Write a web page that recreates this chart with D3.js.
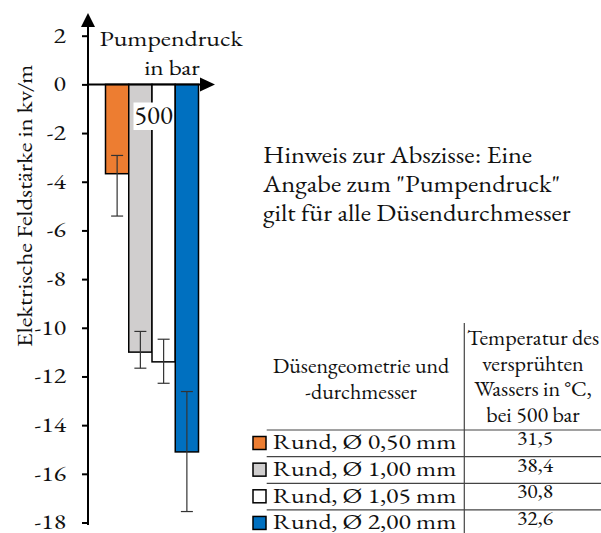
<!DOCTYPE html>
<html>
<head>
<meta charset="utf-8">
<script src="https://cdn.jsdelivr.net/npm/d3@7"></script>
<style>
  body { margin: 0; background: #fff; }
</style>
</head>
<body>
<div id="figure"></div>
<script>
// data
const categories = ["Rund, Ø 0,50 mm", "Rund, Ø 1,00 mm", "Rund, Ø 1,05 mm", "Rund, Ø 2,00 mm"];
const values = [-3.67, -11.0, -11.4, -15.1];
const errUpper = [-2.92, -10.15, -10.47, -12.62];
const errLower = [-5.41, -11.66, -12.28, -17.55];
const temperatures = ["31,5", "38,4", "30,8", "32,6"];
const colors = ["#ED7D31", "#D0CECE", "#FFFFFF", "#0070C0"];
const pressureLabel = ["500"];
const yTicks = [2, 0, -2, -4, -6, -8, -10, -12, -14, -16, -18];
const noteLines = ["Hinweis zur Abszisse: Eine", "Angabe zum \"Pumpendruck\"", "gilt für alle Düsendurchmesser"];
const headLeft = ["Düsengeometrie und", "-durchmesser"];
const headRight = ["Temperatur des", "versprühten", "Wassers in °C,", "bei 500 bar"];

const W = 601, H = 533;
const axisX = 88;
const FONT = "EB Garamond, Liberation Serif, serif";

// widen glyphs a bit: the original face runs wider than EB Garamond
function widen(sel, k) {
  sel.each(function() {
    const len = this.getComputedTextLength();
    d3.select(this)
      .attr("textLength", len * k)
      .attr("lengthAdjust", "spacingAndGlyphs");
  });
}

const svg = d3.select("#figure")
  .append("svg")
  .attr("width", W)
  .attr("height", H)
  .attr("font-family", FONT);

// scales
const y = d3.scaleLinear().domain([-18, 2]).range([522.5, 35.7]);
const x = d3.scaleBand().domain(categories).range([105.5, 198.5]).padding(0);

// bars
svg.selectAll(".bar")
  .data(categories)
  .join("rect")
  .attr("class", "bar")
  .attr("x", d => x(d))
  .attr("width", x.bandwidth())
  .attr("y", (d, i) => y(Math.max(0, values[i])))
  .attr("height", (d, i) => Math.abs(y(values[i]) - y(0)))
  .attr("fill", (d, i) => colors[i])
  .attr("stroke", "#000")
  .attr("stroke-width", 1.5);

// error bars
const eb = svg.selectAll(".err")
  .data(categories)
  .join("g")
  .attr("class", "err")
  .attr("stroke", "#333")
  .attr("stroke-width", 1.2);
eb.append("line")
  .attr("x1", d => x(d) + x.bandwidth() / 2)
  .attr("x2", d => x(d) + x.bandwidth() / 2)
  .attr("y1", (d, i) => y(errUpper[i]))
  .attr("y2", (d, i) => y(errLower[i]));
[errUpper, errLower].forEach(arr => {
  eb.append("line")
    .attr("x1", d => x(d) + x.bandwidth() / 2 - 6)
    .attr("x2", d => x(d) + x.bandwidth() / 2 + 6)
    .attr("y1", (d, i) => y(arr[i]))
    .attr("y2", (d, i) => y(arr[i]));
});

// y axis
const yAxis = d3.axisLeft(y)
  .tickValues(yTicks)
  .tickSize(6)
  .tickPadding(16)
  .tickFormat(d => String(d));
const gy = svg.append("g")
  .attr("transform", `translate(${axisX},0)`)
  .call(yAxis)
  .attr("font-family", FONT);
gy.select(".domain").remove();
gy.selectAll(".tick line").attr("stroke", "#000").attr("stroke-width", 2);
gy.selectAll(".tick text")
  .attr("font-family", FONT)
  .attr("font-size", 21.5)
  .attr("fill", "#111")
  .attr("dy", "0.3em")
  .call(widen, 1.2);

// axis lines with arrows
svg.append("line")
  .attr("x1", axisX).attr("x2", axisX)
  .attr("y1", 525).attr("y2", 26)
  .attr("stroke", "#000").attr("stroke-width", 2);
svg.append("path")
  .attr("d", `M${axisX - 7},27 L${axisX},13 L${axisX + 7},27 Z`)
  .attr("fill", "#000");
svg.append("line")
  .attr("x1", axisX).attr("x2", 201)
  .attr("y1", y(0)).attr("y2", y(0))
  .attr("stroke", "#000").attr("stroke-width", 2);
svg.append("path")
  .attr("d", `M200,${y(0) - 7} L215,${y(0)} L200,${y(0) + 7} Z`)
  .attr("fill", "#000");

// x category label "500" on white box
const cx = (x.range()[0] + x.range()[1]) / 2 + 1.5;
const lbl = svg.append("g");
lbl.append("rect")
  .attr("x", cx - 20).attr("y", 102.5)
  .attr("width", 39).attr("height", 27.5)
  .attr("fill", "#fff");
lbl.append("text")
  .attr("x", cx).attr("y", 123.5)
  .attr("text-anchor", "middle")
  .attr("font-size", 26)
  .attr("fill", "#111")
  .text(pressureLabel[0])
  .call(widen, 1.03);

// axis titles
svg.append("text")
  .attr("x", 171).attr("y", 46)
  .attr("text-anchor", "middle")
  .attr("font-size", 22)
  .attr("fill", "#111")
  .text("Pumpendruck")
  .call(widen, 1.175);
svg.append("text")
  .attr("x", 172).attr("y", 75)
  .attr("text-anchor", "middle")
  .attr("font-size", 22)
  .attr("fill", "#111")
  .text("in bar")
  .call(widen, 1.15);
svg.append("text")
  .attr("transform", "translate(32,206) rotate(-90)")
  .attr("text-anchor", "middle")
  .attr("font-size", 22)
  .attr("fill", "#111")
  .text("Elektrische Feldstärke in kv/m")
  .call(widen, 1.13);

// note
svg.append("g").selectAll("text")
  .data(noteLines)
  .join("text")
  .attr("x", 263)
  .attr("y", (d, i) => 163 + i * 29)
  .attr("font-size", 23)
  .attr("fill", "#111")
  .text(d => d)
  .call(widen, 1.15);

// table
const colX = 464.3;
const rows = d3.scaleBand().domain(categories).range([430, 536.6]);
const tbl = svg.append("g");
tbl.append("line")
  .attr("x1", colX).attr("x2", colX)
  .attr("y1", 323).attr("y2", H)
  .attr("stroke", "#444").attr("stroke-width", 1.2);
tbl.selectAll(".hl")
  .data(categories)
  .join("line")
  .attr("class", "hl")
  .attr("x1", 266.7).attr("x2", W)
  .attr("y1", d => rows(d)).attr("y2", d => rows(d))
  .attr("stroke", "#444").attr("stroke-width", 1.2);

tbl.selectAll(".hleft")
  .data(headLeft)
  .join("text")
  .attr("class", "hleft")
  .attr("x", 361).attr("y", (d, i) => 373 + i * 25.5)
  .attr("text-anchor", "middle")
  .attr("font-size", 20.5)
  .attr("fill", "#111")
  .text(d => d)
  .call(widen, 1.07);
tbl.selectAll(".hright")
  .data(headRight)
  .join("text")
  .attr("class", "hright")
  .attr("x", 533).attr("y", (d, i) => 345 + i * 25.6)
  .attr("text-anchor", "middle")
  .attr("font-size", 20.5)
  .attr("fill", "#111")
  .text(d => d)
  .call(widen, 1.08);

// legend rows
tbl.selectAll(".sw")
  .data(categories)
  .join("rect")
  .attr("class", "sw")
  .attr("x", 253).attr("y", d => rows(d) + 6.5)
  .attr("width", 13).attr("height", 13)
  .attr("fill", (d, i) => colors[i])
  .attr("stroke", "#000").attr("stroke-width", 1.5);
tbl.selectAll(".lab")
  .data(categories)
  .join("text")
  .attr("class", "lab")
  .attr("x", 272.7).attr("y", d => rows(d) + 19.3)
  .attr("font-size", 22)
  .attr("fill", "#111")
  .text(d => d)
  .call(widen, 1.175);
tbl.selectAll(".temp")
  .data(categories)
  .join("text")
  .attr("class", "temp")
  .attr("x", 535).attr("y", d => rows(d) + 15)
  .attr("text-anchor", "middle")
  .attr("font-size", 18)
  .attr("fill", "#111")
  .text((d, i) => temperatures[i])
  .call(widen, 1.2);
</script>
</body>
</html>
